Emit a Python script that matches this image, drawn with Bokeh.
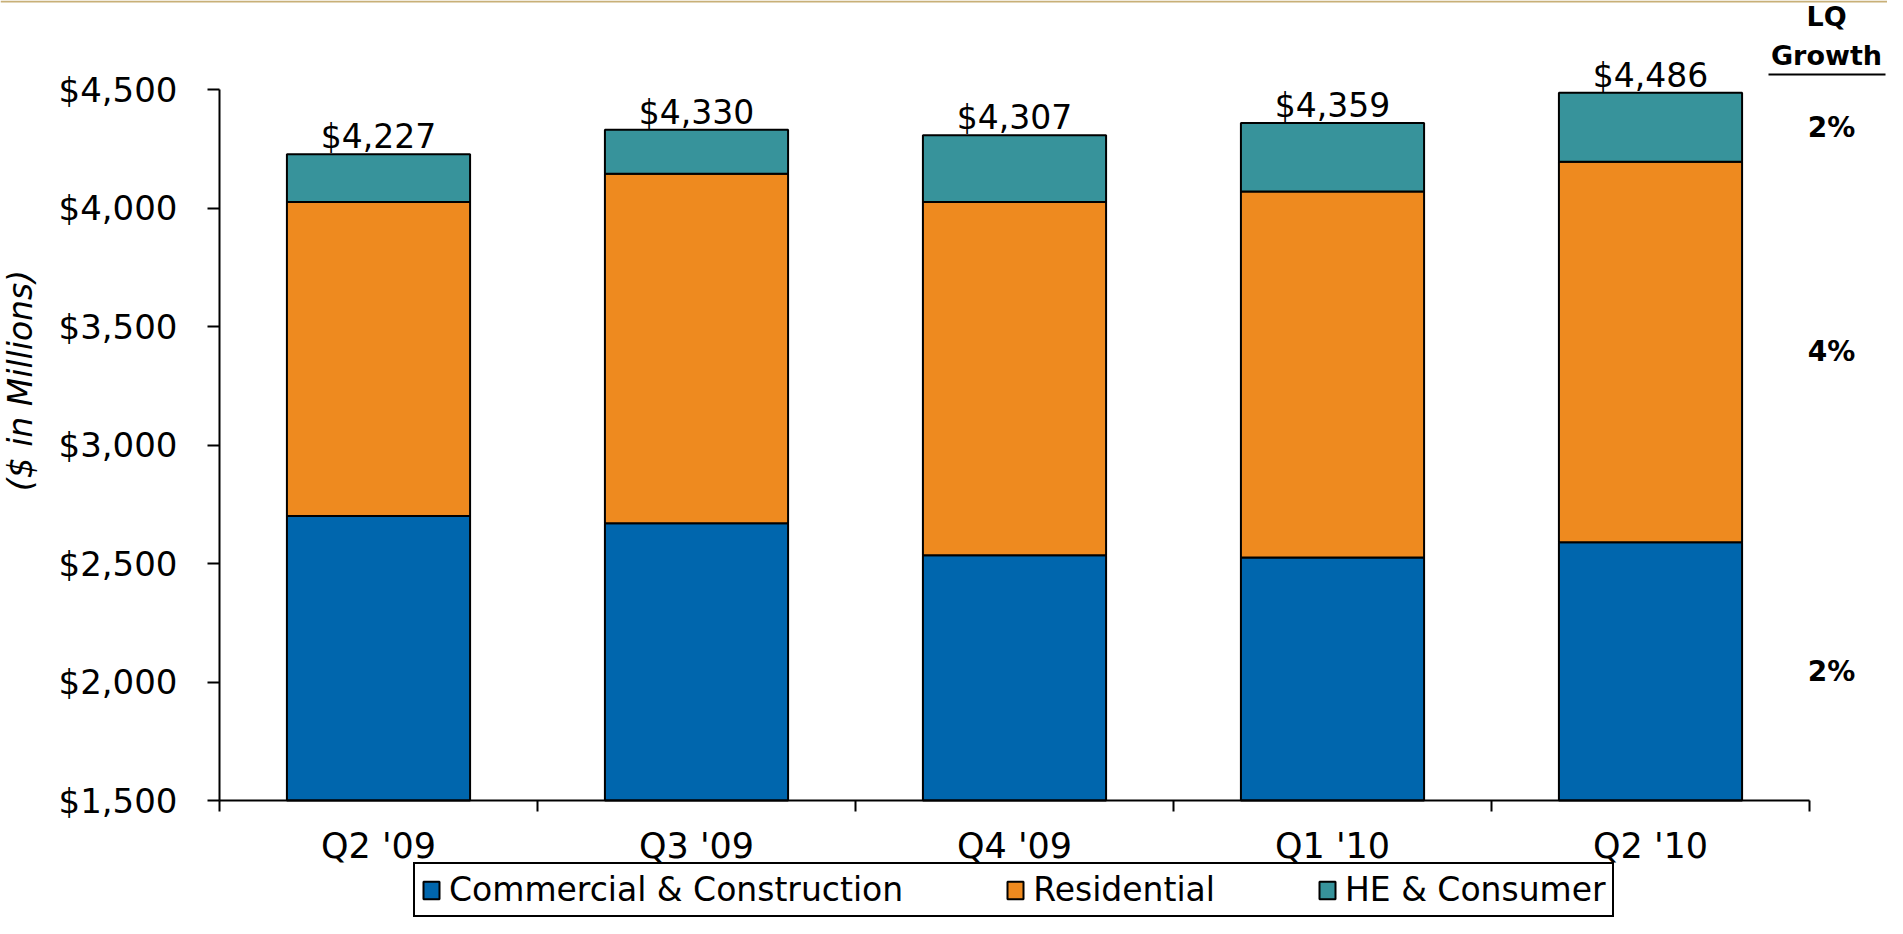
import math
from bokeh.plotting import figure
from bokeh.models import (Range1d, FixedTicker, NumeralTickFormatter, Legend, LegendItem,
                          LinearAxis, BoxAnnotation, ColumnDataSource)
from bokeh.core.properties import value
from bokeh.embed import file_html
from bokeh.resources import INLINE

# ---- data ----
categories = ["Q2 '09", "Q3 '09", "Q4 '09", "Q1 '10", "Q2 '10"]
commercial = [2700, 2670, 2535, 2525, 2590]
residential = [1325, 1475, 1490, 1545, 1605]
he_consumer = [202, 185, 282, 289, 291]
totals = [4227, 4330, 4307, 4359, 4486]
series_names = ["Commercial & Construction", "Residential", "HE & Consumer"]
growth_labels = ["2%", "4%", "2%"]  # HE, Residential, Commercial (top to bottom)
y_ticks = [1500, 2000, 2500, 3000, 3500, 4000, 4500]

colors = ["#0066AD", "#EE8A1F", "#37939B"]
FONT = "DejaVu Sans"

W, H = 1887, 918
# frame pixel geometry (figure coords)
FL, FR, FT, FB = 219, 1809, 89, 800
n = len(categories)
ppx = (FR - FL) / n                     # px per category unit
ppy = (FB - FT) / (y_ticks[-1] - y_ticks[0])  # px per $M
x0 = -FL / ppx
x1 = n + (W - FR) / ppx
y1 = y_ticks[-1] + FT / ppy
y0 = y_ticks[0] - (H - FB) / ppy

def sx(px):
    return x0 + px / ppx

def sy(py):
    return y1 - py / ppy

xs = [i + 0.5 for i in range(n)]
top1 = commercial
top2 = [a + b for a, b in zip(commercial, residential)]
top3 = [a + b for a, b in zip(top2, he_consumer)]

src = ColumnDataSource(dict(x=xs, b0=[y_ticks[0]] * n, t1=top1, t2=top2, t3=top3,
                            lbl=["${:,}".format(t) for t in totals]))

p = figure(width=W, height=H, output_backend="svg", toolbar_location=None,
           x_range=Range1d(x0, x1), y_range=Range1d(y0, y1),
           x_axis_location=None, y_axis_location=None,
           min_border=0, min_border_left=0, min_border_right=0, min_border_top=0,
           min_border_bottom=0)
p.outline_line_color = None
p.background_fill_color = "white"
p.border_fill_color = "white"
p.grid.grid_line_color = None

bw = 0.576
r1 = p.vbar(x="x", bottom="b0", top="t1", width=bw, source=src, fill_color=colors[0],
            line_color="black", line_width=2)
r2 = p.vbar(x="x", bottom="t1", top="t2", width=bw, source=src, fill_color=colors[1],
            line_color="black", line_width=2)
r3 = p.vbar(x="x", bottom="t2", top="t3", width=bw, source=src, fill_color=colors[2],
            line_color="black", line_width=2)

p.text(x="x", y="t3", text="lbl", source=src, text_align="center", text_baseline="bottom",
       text_font=value(FONT), text_font_size="33px", text_color="black", y_offset=2)

# y axis
ya = LinearAxis(fixed_location=0, bounds=(y_ticks[0], y_ticks[-1]))
ya.ticker = FixedTicker(ticks=y_ticks)
ya.formatter = NumeralTickFormatter(format="$0,0")
ya.major_label_text_font = FONT
ya.major_label_text_font_size = "34px"
ya.major_label_text_color = "black"
ya.major_tick_in = 0
ya.major_tick_out = 12
ya.minor_tick_line_color = None
ya.axis_line_width = 2
ya.major_tick_line_width = 2
ya.axis_line_color = "black"
ya.major_tick_line_color = "black"
ya.major_label_standoff = 30
p.add_layout(ya, "left")

# x axis
xa = LinearAxis(fixed_location=y_ticks[0], bounds=(0, n))
xa.ticker = FixedTicker(ticks=xs, minor_ticks=list(range(n + 1)))
xa.major_label_overrides = {x: c for x, c in zip(xs, categories)}
xa.major_tick_line_color = None
xa.minor_tick_in = 0
xa.minor_tick_out = 11
xa.minor_tick_line_width = 2
xa.minor_tick_line_color = "black"
xa.axis_line_width = 2
xa.axis_line_color = "black"
xa.major_label_text_font = FONT
xa.major_label_text_font_size = "35px"
xa.major_label_text_color = "black"
xa.major_label_standoff = 14
p.add_layout(xa, "below")

# y-axis title
p.text(x=[sx(20)], y=[3272], text=["($ in Millions)"], angle=math.pi / 2,
       text_align="center", text_baseline="middle", text_font=value(FONT),
       text_font_size="33px", text_font_style="italic", text_color="black")

# growth column
hx = sx(1826)
gx = sx(1831)
seg_centers = [(top2[-1] + top3[-1]) / 2, (top1[-1] + top2[-1]) / 2, (y_ticks[0] + top1[-1]) / 2]
p.text(x=[hx, hx], y=[sy(16), sy(55)], text=["LQ", "Growth"], text_align="center",
       text_baseline="middle", text_font=value(FONT), text_font_size="27px",
       text_font_style="bold", text_color="black")
p.add_layout(BoxAnnotation(left=sx(1768), right=sx(1885), bottom=sy(75), top=sy(73),
                           fill_color="black", fill_alpha=1, line_color=None))
p.text(x=[gx] * 3, y=seg_centers, text=growth_labels, text_align="center",
       text_baseline="middle", text_font=value(FONT), text_font_size="28px",
       text_font_style="bold", text_color="black")

# gold rule at the top
p.add_layout(BoxAnnotation(left=x0, right=x1, top=y1, bottom=sy(2), fill_color="#C8B078",
                           fill_alpha=1, line_color=None))

legend = Legend(items=[LegendItem(label=nm, renderers=[r]) for nm, r in zip(series_names, [r1, r2, r3])],
                orientation="horizontal", location=(413, 1),
                label_text_font=FONT, label_text_font_size="33px", label_text_color="black",
                glyph_width=20, glyph_height=22, label_standoff=8, spacing=102,
                padding=6, margin=0, border_line_color="black", border_line_width=2,
                border_line_alpha=1, background_fill_alpha=1)
p.add_layout(legend, "center")

open("out.html", "w").write(file_html(p, INLINE))
